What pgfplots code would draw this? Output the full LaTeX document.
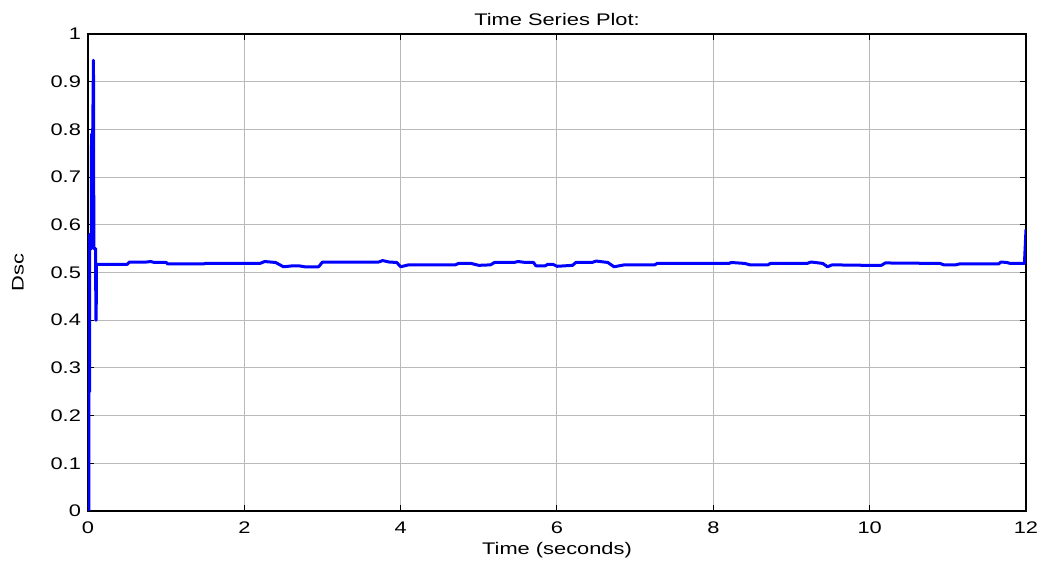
\documentclass[border=0pt]{standalone}
\usepackage{fontspec}
\setmainfont{Liberation Sans}[FakeStretch=1.3]
\usepackage{pgfplots}
\pgfplotsset{compat=1.18}

\pgfplotstableread{
t y
0 0
0.010 0.000
0.012 0.250
0.020 0.250
0.022 0.580
0.035 0.550
0.043 0.550
0.045 0.790
0.060 0.790
0.070 0.945
0.075 0.550
0.098 0.550
0.100 0.400
0.105 0.400
0.107 0.517
0.50 0.517
0.53 0.522
0.75 0.522
0.80 0.523
0.85 0.521
1.00 0.521
1.02 0.518
1.48 0.518
1.50 0.519
2.20 0.519
2.26 0.523
2.40 0.521
2.50 0.512
2.62 0.514
2.70 0.514
2.77 0.512
2.95 0.512
3.00 0.522
3.72 0.522
3.77 0.525
3.85 0.522
3.95 0.521
4.00 0.512
4.10 0.516
4.70 0.516
4.74 0.519
4.90 0.519
5.00 0.515
5.15 0.516
5.20 0.521
5.45 0.521
5.50 0.523
5.60 0.521
5.70 0.521
5.73 0.514
5.85 0.514
5.88 0.517
5.95 0.517
6.00 0.513
6.20 0.515
6.24 0.521
6.45 0.521
6.50 0.524
6.65 0.521
6.73 0.512
6.86 0.516
7.25 0.516
7.28 0.519
8.20 0.519
8.23 0.521
8.40 0.519
8.47 0.516
8.70 0.516
8.73 0.519
9.20 0.519
9.25 0.522
9.40 0.519
9.46 0.512
9.52 0.516
9.97 0.515
10.15 0.515
10.20 0.520
10.90 0.519
10.95 0.516
11.10 0.516
11.15 0.518
11.65 0.518
11.68 0.522
11.75 0.521
11.80 0.519
11.98 0.519
12.00 0.590
}\dsc

\begin{document}
\begin{tikzpicture}
\useasboundingbox (-44pt,-28pt) rectangle (476.5pt,255.5pt);
\begin{axis}[
  at={(0,0)}, anchor=south west,
  scale only axis,
  width=469pt, height=238.5pt,
  xmin=0, xmax=12, ymin=0, ymax=1,
  xtick={0,2,...,12},
  ytick={0,0.1,...,1},
  /pgf/number format/assume math mode=true,
  yticklabel style={/pgf/number format/fixed,/pgf/number format/precision=1},
  xticklabel style={yshift=-2pt},
  tick label style={font=\fontsize{8.4}{9}\selectfont},
  label style={font=\fontsize{8.4}{9}\selectfont},
  title style={font=\fontsize{8.4}{9}\selectfont, at={(axis description cs:0.5,1)}, anchor=base, yshift=-1.75pt},
  title={Time Series Plot:},
  xlabel={Time (seconds)},
  ylabel={Dsc},
  xlabel style={at={(axis description cs:0.5,-0.0818)}, anchor=center},
  ylabel style={at={(axis description cs:-0.0746,0.5)}, anchor=center},
  tick align=inside,
  major tick length=3pt,
  tick style={black, line width=0.5pt},
  xtick pos=both, ytick pos=both,
  axis line style={black, line width=0.6pt},
  grid=major,
  major grid style={gray!55, line width=0.5pt},
]
\addplot[blue, line width=1.5pt, line join=round, mark=none] table[x=t,y=y] {\dsc};
\end{axis}
\end{tikzpicture}
\end{document}
